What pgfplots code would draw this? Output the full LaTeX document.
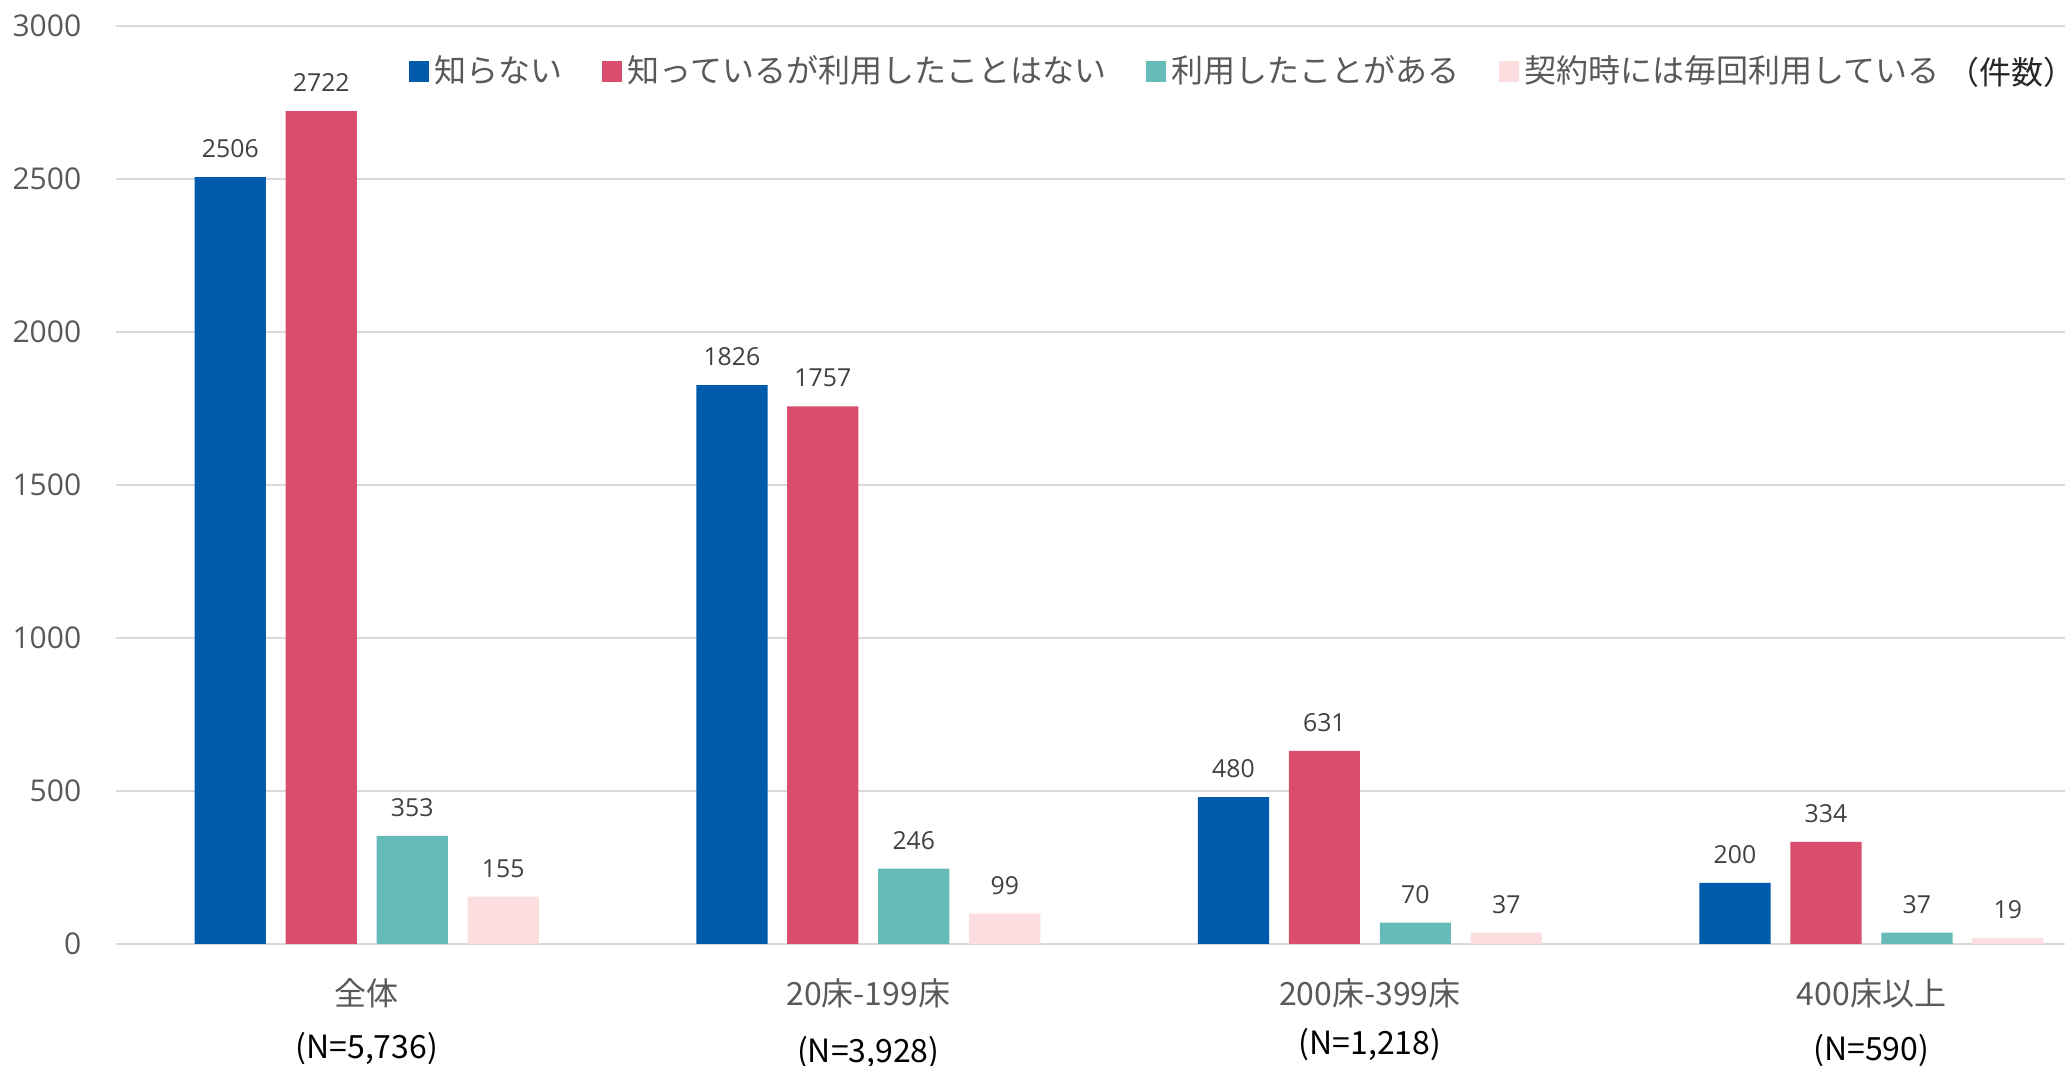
\documentclass[border=0pt]{standalone}
\usepackage{pgfplots}
\pgfplotsset{compat=1.18}
\usepackage{fontspec}
\setmainfont{Open Sans}
\newfontfamily\jp{Noto Sans CJK JP}
\definecolor{cBlue}{RGB}{0,91,172}
\definecolor{cRed}{RGB}{219,77,109}
\definecolor{cTeal}{RGB}{102,187,184}
\definecolor{cPink}{RGB}{252,221,224}
\definecolor{cGrid}{RGB}{217,217,217}
\definecolor{cText}{RGB}{89,89,89}
\definecolor{cLab}{RGB}{64,64,64}
\pgfplotsset{sqleg/.style={legend image code/.code={\fill[##1] (0pt,-2.6pt) rectangle (5pt,2.6pt);}}}
\begin{document}
\begin{tikzpicture}
\useasboundingbox (-29pt,-30.5pt) rectangle (487.25pt,236pt);
\clip (-29pt,-30.5pt) rectangle (487.25pt,236pt);
\begin{axis}[
  at={(0,0)}, anchor=south west,
  scale only axis, width=487.25pt, height=229.5pt,
  xmin=-0.5, xmax=3.386, ymin=0, ymax=3000,
  ybar, bar width=0.142,
  ytick={0,500,1000,1500,2000,2500,3000},
  xtick={0,1,2,3},
  xticklabels={{\textcolor{cText}{全体}\\[3.6pt]\textcolor{black}{(N=5,736)}},
               {\textcolor{cText}{20床-199床}\\[4.6pt]\textcolor{black}{(N=3,928)}},
               {\textcolor{cText}{200床-399床}\\[2.6pt]\textcolor{black}{(N=1,218)}},
               {\textcolor{cText}{400床以上}\\[4.1pt]\textcolor{black}{(N=590)}}},
  xticklabel style={font=\jp\fontsize{8}{9.6}\selectfont, align=center, anchor=north, inner sep=0pt, yshift=-8.5pt},
  yticklabel style={font=\fontsize{7.5}{9}\selectfont, text=cText, anchor=east, inner sep=0pt, xshift=-8.5pt},
  /pgf/number format/assume math mode=true,
  /pgf/number format/1000 sep={},
  axis line style={draw=none},
  major tick length=0pt,
  ymajorgrids, grid style={cGrid, line width=0.6pt},
  nodes near coords,
  every node near coord/.append style={font=\fontsize{6.2}{7}\selectfont, text=cLab, inner sep=0pt, anchor=south, yshift=4.6pt},
  legend columns=-1,
  legend style={at={(axis cs:0.082,2850)}, anchor=west, draw=none, fill=none, inner sep=0pt,
    font=\jp\fontsize{8}{9.6}\selectfont, text=cText,
    nodes={inner sep=1.2pt},
    /tikz/every odd column/.append style={column sep=0.3pt},
    /tikz/every even column/.append style={column sep=8.6pt}},
]
\addplot[sqleg, fill=cBlue, draw=none, bar shift=-0.272] coordinates {(0,2506) (1,1826) (2,480) (3,200)};
\addlegendentry{知らない}
\addplot[sqleg, fill=cRed, draw=none, bar shift=-0.0907] coordinates {(0,2722) (1,1757) (2,631) (3,334)};
\addlegendentry{知っているが利用したことはない}
\addplot[sqleg, fill=cTeal, draw=none, bar shift=0.0907] coordinates {(0,353) (1,246) (2,70) (3,37)};
\addlegendentry{利用したことがある}
\addplot[sqleg, fill=cPink, draw=none, bar shift=0.272] coordinates {(0,155) (1,99) (2,37) (3,19)};
\addlegendentry{契約時には毎回利用している}
\node[anchor=west, inner sep=0pt, font=\jp\fontsize{8}{9.6}\selectfont, text=black!85] at (axis cs:3.15,2850) {（件数）};
\end{axis}
\end{tikzpicture}
\end{document}
